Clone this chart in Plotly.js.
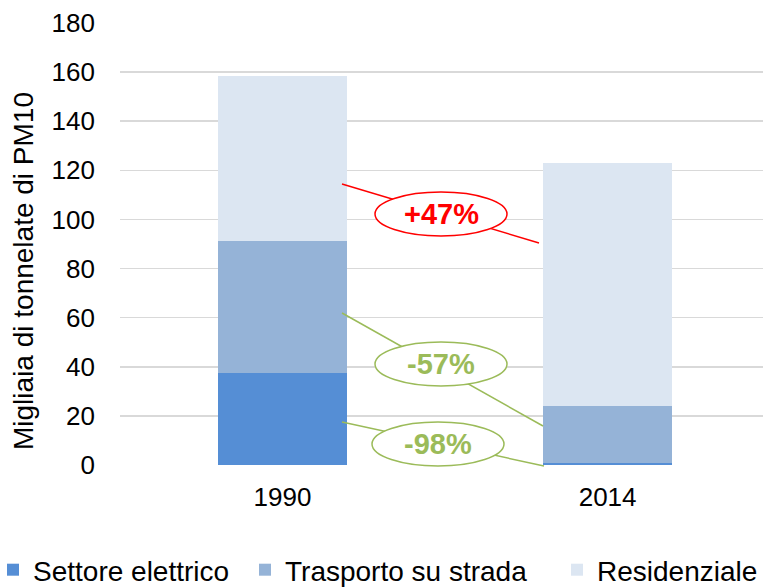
<!DOCTYPE html>
<html>
<head>
<meta charset="utf-8">
<script src="https://cdn.plot.ly/plotly-3.0.1.min.js"></script>
<style>
  html, body { margin: 0; padding: 0; background: #fff; }
  #chart { width: 763px; height: 587px; }
</style>
</head>
<body>
<div id="chart"></div>
<script>
// ---- Data ----
const years = ['1990', '2014'];
const settoreElettrico = [37.5, 0.7];
const trasportoStrada = [53.8, 23.2];
const residenziale = [67.3, 99.0];
const seriesNames = ['Settore elettrico', 'Trasporto su strada', 'Residenziale'];
const yTicks = [0, 20, 40, 60, 80, 100, 120, 140, 160, 180];
const yTitle = 'Migliaia di tonnelate di PM10';

const colors = ['#558ED5', '#95B3D7', '#DCE6F2'];
const FONT = 'Liberation Sans, Arial, sans-serif';

function pct(a, b) {
  const v = Math.round((b / a - 1) * 100);
  return (v > 0 ? '+' : '') + v + '%';
}

// plot area pixels: left 120, right 763, top 23, bottom 465
const PL = 120, PW = 643, PB = 465, PH = 442;
const px = x => (x - PL) / PW;
const py = y => (PB - y) / PH;

const traces = [
  { x: years, y: settoreElettrico, name: seriesNames[0], legend: 'legend' },
  { x: years, y: trasportoStrada, name: seriesNames[1], legend: 'legend2' },
  { x: years, y: residenziale, name: seriesNames[2], legend: 'legend3' }
].map((t, i) => Object.assign(t, {
  type: 'bar',
  marker: { color: colors[i], line: { width: 0 } },
  hoverinfo: 'skip'
}));

const red = '#FF0000', green = '#9BBB59';

function connector(x0, y0, x1, y1, c) {
  return { type: 'line', xref: 'paper', yref: 'paper', x0: px(x0), y0: py(y0), x1: px(x1), y1: py(y1),
           line: { color: c, width: 1.5 }, layer: 'above' };
}
function ellipse(x0, y0, x1, y1, c) {
  return { type: 'circle', xref: 'paper', yref: 'paper', x0: px(x0), y0: py(y0), x1: px(x1), y1: py(y1),
           line: { color: c, width: 1.5 }, fillcolor: '#FFFFFF', layer: 'above' };
}

const shapes = [
  connector(342, 184, 539, 243, red),
  ellipse(375, 192, 507, 236, red),
  connector(342, 313, 543, 426, green),
  ellipse(375, 342, 507, 386, green),
  connector(342, 422, 544, 466, green),
  ellipse(372, 422, 504, 466, green)
];

function label(text, cx, cy, c) {
  return { text: '<b>' + text + '</b>', xref: 'paper', yref: 'paper', x: px(cx), y: py(cy),
           xanchor: 'center', yanchor: 'middle', showarrow: false,
           font: { family: FONT, size: 29, color: c } };
}

const annotations = [
  label(pct(residenziale[0], residenziale[1]), 441, 214, red),
  label(pct(trasportoStrada[0], trasportoStrada[1]), 441, 364, green),
  label(pct(settoreElettrico[0], settoreElettrico[1]), 438, 444, green),
  { text: yTitle, xref: 'paper', yref: 'paper', x: px(23), y: py(271), textangle: -90,
    xanchor: 'center', yanchor: 'middle', showarrow: false,
    font: { family: FONT, size: 28, color: '#000' } }
];

function leg(textStartPx) {
  return { orientation: 'h', x: px(textStartPx - 40), xanchor: 'left',
           yref: 'container', y: 17 / 587, yanchor: 'middle',
           font: { family: FONT, size: 28, color: '#000' }, bgcolor: 'rgba(0,0,0,0)', borderwidth: 0 };
}

const layout = {
  width: 763, height: 587,
  margin: { l: PL, r: 0, t: 23, b: 587 - PB, autoexpand: false },
  paper_bgcolor: '#fff', plot_bgcolor: '#fff',
  barmode: 'stack',
  bargap: 0.603,
  showlegend: true,
  legend: leg(33),
  legend2: leg(285),
  legend3: leg(597),
  font: { family: FONT, color: '#000' },
  xaxis: {
    type: 'category',
    range: [-0.5, 1.478],
    showgrid: false, zeroline: false, showline: false, ticks: '',
    tickfont: { family: FONT, size: 26, color: '#000' },
    ticklabelstandoff: 14
  },
  yaxis: {
    range: [0, 180],
    tickvals: yTicks,
    ticktext: yTicks.map(String),
    showgrid: true, gridcolor: '#D9D9D9', gridwidth: 1.5,
    zeroline: false, showline: false, ticks: '',
    tickfont: { family: FONT, size: 26, color: '#000' },
    ticklabelstandoff: 24
  },
  shapes: shapes,
  annotations: annotations
};

Plotly.newPlot('chart', traces, layout, { displayModeBar: false, staticPlot: true });
</script>
</body>
</html>
